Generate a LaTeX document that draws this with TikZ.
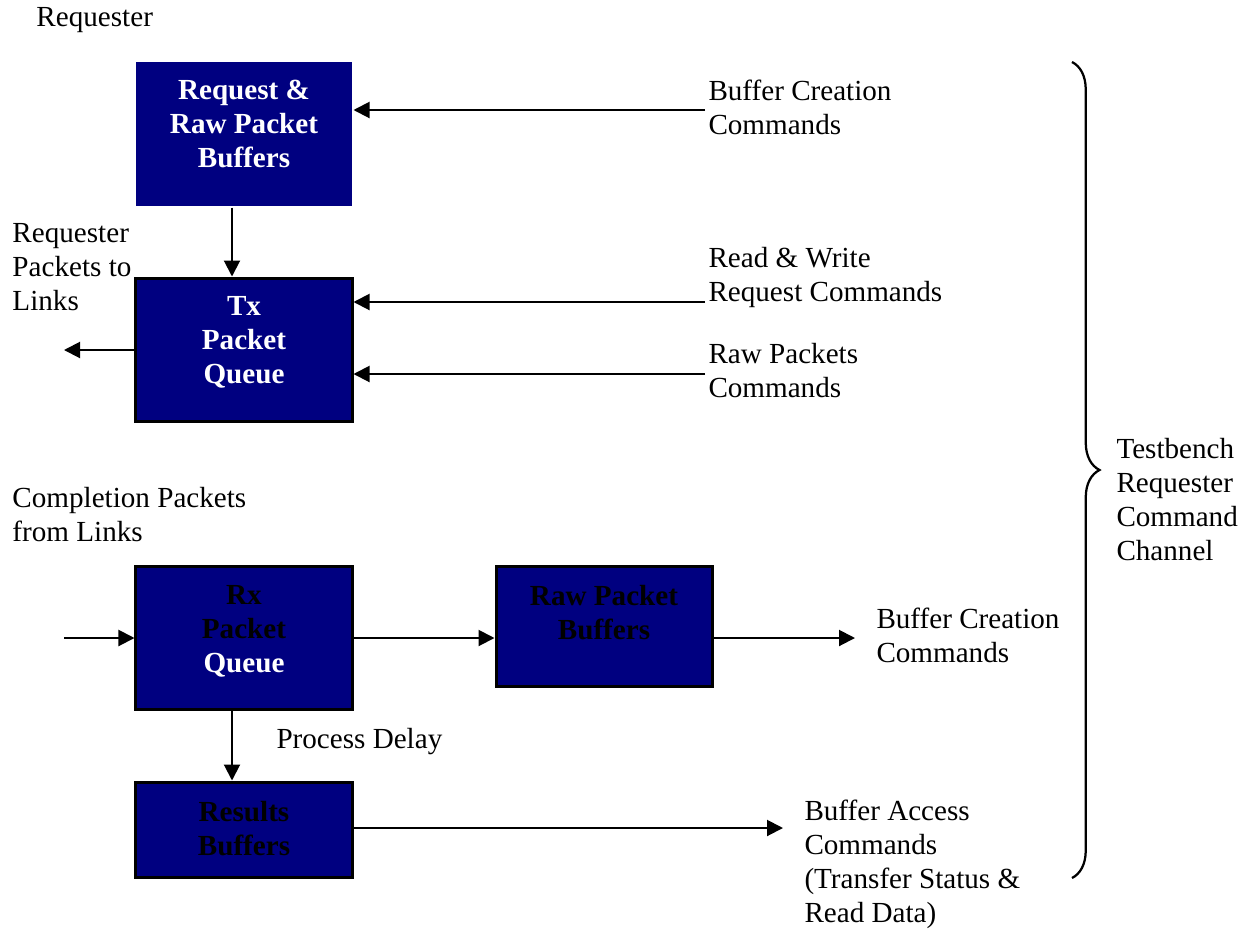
\documentclass[tikz,border=0pt]{standalone}
\usepackage{fontspec}
\setmainfont{Liberation Serif}
\usetikzlibrary{arrows.meta,decorations.pathreplacing}
\definecolor{boxblue}{HTML}{000080}
\begin{document}
\begin{tikzpicture}[x=0.4pt,y=-0.4pt,
  txt/.style={inner sep=0pt,anchor=north west,align=left,font=\fontsize{11.65}{13.6}\selectfont},
  btxt/.style={inner sep=0pt,anchor=north,align=center,text=white,font=\fontsize{11.65}{13.6}\selectfont\bfseries},
  bluebox/.style={fill=boxblue,draw=black,line width=1.2pt,minimum width=86.4pt,inner sep=0pt},
  arr/.style={line width=0.8pt,-{Triangle[length=6.4pt,width=6.4pt]}},
  bracestyle/.style={line width=0.9pt,decorate,decoration={brace,amplitude=11pt}}]
\useasboundingbox (0,0) rectangle (1254,928);
% boxes
\node[bluebox,draw=none,minimum height=57.6pt] (rrb) at (244,134) {};
\node[bluebox,minimum height=57.2pt] (tx) at (244,349.5) {};
\node[bluebox,minimum height=57.2pt] (rx) at (244,637.5) {};
\node[bluebox,minimum height=48pt] (raw) at (604,626) {};
\node[bluebox,minimum height=38pt] (res) at (244,829.5) {};
% box texts
\node[btxt] (rrbt) at (244,80) {Request \&\\Raw Packet\\Buffers};
\node[btxt] (txt) at (244,296) {Tx\\Packet\\Queue};
\node[btxt] (rxt) at (244,585) {{\color{black}Rx}\\{\color{black}Packet}\\Queue};
\node[btxt,text=black] (rawt) at (604,585) {Raw Packet\\Buffers};
\node[btxt,text=black] (rest) at (244,801) {Results\\Buffers};
% labels
\node[txt] (lreq) at (36,7) {Requester};
\node[txt] (lbc1) at (708,79) {Buffer Creation\\Commands};
\node[txt] (lrw) at (708,247) {Read \& Write\\Request Commands};
\node[txt] (lrp) at (708,343) {Raw Packets\\Commands};
\node[txt] (lrpl) at (12,223) {Requester\\Packets to\\Links};
\node[txt] (lcp) at (12,487) {Completion Packets\\from Links};
\node[txt] (lbc2) at (876,607) {Buffer Creation\\Commands};
\node[txt] (lpd) at (276,728) {Process Delay};
\node[txt] (lba) at (804,799) {Buffer Access\\Commands\\(Transfer Status \&\\Read Data)};
\node[txt] (ltb) at (1116,438) {Testbench\\Requester\\Command\\Channel};
% coordinates
\coordinate (c1) at (705,110);
\coordinate (c2) at (705,302);
\coordinate (c3) at (705,374);
\coordinate (c4) at (64,350);
\coordinate (c5) at (64,638);
\coordinate (c6) at (855,638);
\coordinate (c7) at (783,828);
\coordinate (b1) at (1072,62);
\coordinate (b2) at (1072,878);
% connectors
\draw[arr] ([xshift=-4.8pt]rrb.south) -- ([xshift=-4.8pt]tx.north);
\draw[arr] (c1) -- (c1 -| rrb.east);
\draw[arr] (c2) -- (c2 -| tx.east);
\draw[arr] (c3) -- (c3 -| tx.east);
\draw[arr] (tx.west |- c4) -- (c4);
\draw[arr] (c5) -- (c5 -| rx.west);
\draw[arr] (rx.east |- c5) -- (c5 -| raw.west);
\draw[arr] (raw.east |- c6) -- (c6);
\draw[arr] ([xshift=-4.8pt]rx.south) -- ([xshift=-4.8pt]res.north);
\draw[arr] (res.east |- c7) -- (c7);
\draw[bracestyle] (b1) -- (b2);
\end{tikzpicture}
\end{document}
